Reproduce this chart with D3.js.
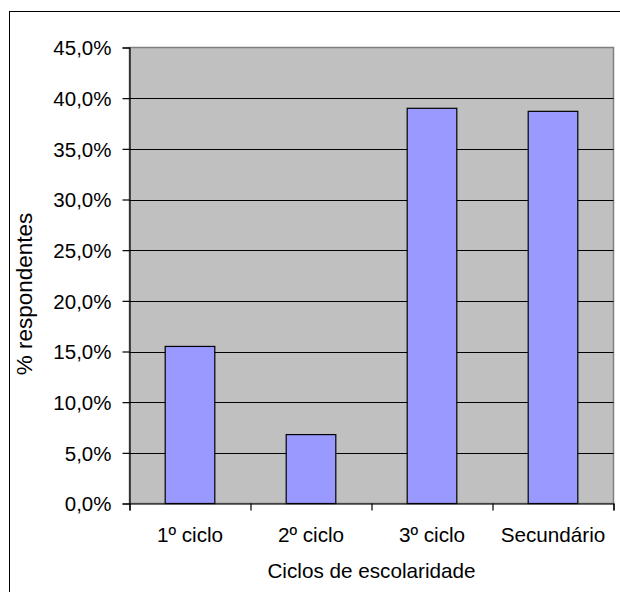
<!DOCTYPE html>
<html>
<head>
<meta charset="utf-8">
<script src="https://cdn.jsdelivr.net/npm/d3@7"></script>
<style>
  html, body { margin: 0; padding: 0; background: #fff; }
  svg { display: block; font-family: "Liberation Sans", Arial, sans-serif; }
</style>
</head>
<body>
<svg id="chart" width="620" height="592"></svg>
<script>
const categories = ["1º ciclo", "2º ciclo", "3º ciclo", "Secundário"];
const values = [0.155, 0.068, 0.390, 0.387];
const yTicks = [0, 0.05, 0.10, 0.15, 0.20, 0.25, 0.30, 0.35, 0.40, 0.45];
const xTitle = "Ciclos de escolaridade";
const yTitle = "% respondentes";

const svg = d3.select("#chart");
const plot = { left: 129.5, right: 613.5, top: 47.5, bottom: 503.5 };
const FONT = "'Liberation Sans', Arial, sans-serif";

// outer chart border (extends past the crop on right/bottom)
svg.append("rect")
  .attr("x", 9.5).attr("y", 11.5)
  .attr("width", 700).attr("height", 700)
  .attr("fill", "#fff").attr("stroke", "#000").attr("stroke-width", 1);

const x = d3.scaleBand().domain(categories)
  .range([plot.left, plot.right]).paddingInner(0.59).paddingOuter(0.295);
const xEdge = d3.scaleLinear().domain([0, categories.length]).range([plot.left, plot.right]);
const y = d3.scaleLinear().domain([0, 0.45]).range([plot.bottom, plot.top]);

// plot area
svg.append("rect")
  .attr("x", plot.left).attr("y", plot.top)
  .attr("width", plot.right - plot.left).attr("height", plot.bottom - plot.top)
  .attr("fill", "#C0C0C0").attr("stroke", "#808080").attr("stroke-width", 1.5);

// gridlines
svg.append("g").selectAll("line")
  .data(yTicks.filter(d => d > 0 && d < 0.45))
  .join("line")
  .attr("x1", plot.left).attr("x2", plot.right)
  .attr("y1", d => Math.round(y(d)) + 0.5).attr("y2", d => Math.round(y(d)) + 0.5)
  .attr("stroke", "#000").attr("stroke-width", 1.2);

// bars
svg.append("g").selectAll("rect")
  .data(categories.map((c, i) => ({ c, v: values[i] })))
  .join("rect")
  .attr("x", d => x(d.c)).attr("width", x.bandwidth())
  .attr("y", d => y(d.v)).attr("height", d => y(0) - y(d.v))
  .attr("fill", "#9999FF").attr("stroke", "#000").attr("stroke-width", 1.2);

const fmt = d => d3.format(".1f")(d * 100).replace(".", ",") + "%";

// y axis
const yAxis = svg.append("g")
  .attr("transform", `translate(${plot.left},0)`)
  .call(d3.axisLeft(y).tickValues(yTicks).tickFormat(fmt).tickSize(7).tickPadding(11));
yAxis.select(".domain").attr("stroke", "#000").attr("stroke-width", 1.2);
yAxis.selectAll(".tick line").attr("stroke", "#000").attr("stroke-width", 1.2);
yAxis.selectAll(".tick text").attr("font-size", 20.5).attr("fill", "#000")
  .attr("font-family", FONT).attr("dy", "0.35em");

// x axis edge ticks
const xAxisEdges = svg.append("g")
  .attr("transform", `translate(0,${plot.bottom})`)
  .call(d3.axisBottom(xEdge).tickValues(d3.range(categories.length + 1)).tickFormat("").tickSize(7));
xAxisEdges.select(".domain").attr("stroke", "#000").attr("stroke-width", 1.2);
xAxisEdges.selectAll(".tick line").attr("stroke", "#000").attr("stroke-width", 1.2);

// x labels
const xAxis = svg.append("g")
  .attr("transform", `translate(0,${plot.bottom})`)
  .call(d3.axisBottom(x).tickSize(0).tickPadding(24));
xAxis.select(".domain").remove();
xAxis.selectAll(".tick text").attr("font-size", 20.7).attr("fill", "#000")
  .attr("font-family", FONT);

// titles
svg.append("text")
  .attr("x", (plot.left + plot.right) / 2).attr("y", 578)
  .attr("text-anchor", "middle").attr("font-size", 20.7).attr("fill", "#000")
  .attr("font-family", FONT)
  .text(xTitle);

svg.append("text")
  .attr("transform", "translate(32,294) rotate(-90)")
  .attr("text-anchor", "middle").attr("font-size", 22.5).attr("fill", "#000")
  .attr("font-family", FONT)
  .text(yTitle);
</script>
</body>
</html>
